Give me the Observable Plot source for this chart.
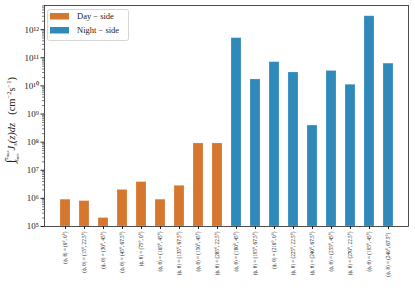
<!DOCTYPE html>
<html><head><meta charset="utf-8">
<script src="https://cdn.jsdelivr.net/npm/d3@7"></script>
<script src="https://cdn.jsdelivr.net/npm/@observablehq/plot@0.6"></script>
<style>body{margin:0;background:#fff}</style>
</head><body><div id="chart"></div>
<script>
const labels = [
  "(ϕ, θ) = (0°, 0°)", "(ϕ, θ) = (15°, 22.5°)", "(ϕ, θ) = (30°, 45°)", "(ϕ, θ) = (45°, 67.5°)",
  "(ϕ, θ) = (75°, 0°)", "(ϕ, θ) = (105°, 45°)", "(ϕ, θ) = (135°, 67.5°)", "(ϕ, θ) = (150°, 45°)",
  "(ϕ, θ) = (285°, 22.5°)",
  "(ϕ, θ) = (180°, 45°)", "(ϕ, θ) = (195°, 67.5°)", "(ϕ, θ) = (210°, 0°)", "(ϕ, θ) = (225°, 22.5°)",
  "(ϕ, θ) = (240°, 67.5°)", "(ϕ, θ) = (255°, 45°)", "(ϕ, θ) = (270°, 22.5°)", "(ϕ, θ) = (195°, 45°)",
  "(ϕ, θ) = (240°, 67.5°) "
];
const values = [9e5, 8e5, 2e5, 2e6, 3.8e6, 9e5, 2.8e6, 9e7, 9e7,
                5e11, 1.7e10, 7e10, 3e10, 3.9e8, 3.4e10, 1.1e10, 3e12, 6.2e10];
const sides = ["Day − side", "Night − side"];
const sideOf = [0,0,0,0,0,0,0,0,0,1,1,1,1,1,1,1,1,1];
const colors = ["#d6772f", "#2f8ab9"];
const decades = [1e5,1e6,1e7,1e8,1e9,1e10,1e11,1e12];
const sup = {"0":"⁰","1":"¹","2":"²","3":"³","4":"⁴","5":"⁵","6":"⁶","7":"⁷","8":"⁸","9":"⁹"};

const data = labels.map((l, i) => ({label: l, value: values[i], side: sides[sideOf[i]]}));
const minors = [];
for (let e = 5; e <= 12; e++) for (let k = 2; k <= 9; k++) { const v = k * 10 ** e; if (v < 10 ** 12.86) minors.push(v); }

const chart = Plot.plot({
  width: 415, height: 291,
  marginLeft: 44, marginRight: 7, marginTop: 5, marginBottom: 65,
  style: {fontFamily: "Liberation Serif, serif", background: "white", color: "#222"},
  x: {domain: labels, paddingInner: 0.5, paddingOuter: 0.73, label: null},
  y: {type: "log", domain: [1e5, 10 ** 12.86], label: null},
  color: {domain: sides, range: colors},
  marks: [
    Plot.barY(data, {x: "label", y1: d => 1e5, y2: "value", fill: "side", stroke: "white", strokeOpacity: 0.25, strokeWidth: 0.8}),
    Plot.axisY({ticks: minors, tickFormat: () => "", tickSize: 2, strokeWidth: 0.6}),
    Plot.axisY({ticks: decades, tickSize: 3.5, tickPadding: 2, fontSize: 9,
      tickFormat: d => "10" + String(Math.round(Math.log10(d))).split("").map(c => sup[c]).join("")}),
    Plot.axisX({tickRotate: -90, fontSize: 5.2, tickSize: 3, tickPadding: 2, label: null}),
    Plot.frame({stroke: "#222", strokeWidth: 0.8})
  ]
});
document.getElementById("chart").appendChild(chart);

const svg = d3.select(chart);
// y label
const yl = svg.append("text").attr("transform", "translate(14,120) rotate(-90)")
  .attr("text-anchor", "middle").style("font-size", "10.5px").attr("fill", "#222")
  .style("font-family", "Liberation Serif, serif");
yl.append("tspan").style("font-size", "13px").text("∫");
yl.append("tspan").style("font-size", "5.5px").attr("dy", -6).attr("font-style", "italic").text("z");
yl.append("tspan").style("font-size", "4px").attr("dy", 1).attr("font-style", "italic").text("max");
yl.append("tspan").style("font-size", "5.5px").attr("dx", -11).attr("dy", 9).attr("font-style", "italic").text("z");
yl.append("tspan").style("font-size", "4px").attr("dy", 1).attr("font-style", "italic").text("min");
yl.append("tspan").attr("dx", 3).attr("dy", -4).attr("font-style", "italic").text("J");
yl.append("tspan").style("font-size", "6.5px").attr("dy", 2).attr("font-style", "italic").text("s");
yl.append("tspan").attr("dy", -2).attr("font-style", "italic").text("(z)dz");
yl.append("tspan").attr("dx", 8).text("(cm");
yl.append("tspan").style("font-size", "6.5px").attr("dy", -4).text("−2");
yl.append("tspan").attr("dy", 4).text("s");
yl.append("tspan").style("font-size", "6.5px").attr("dy", -4).text("−1");
yl.append("tspan").attr("dy", 4).text(")");

// legend
const lg = svg.append("g").attr("text-anchor", "start");
lg.append("rect").attr("x", 47.5).attr("y", 9.5).attr("width", 81).attr("height", 31).attr("rx", 2)
  .attr("fill", "white").attr("fill-opacity", 0.8).attr("stroke", "#ccc").attr("stroke-width", 0.8);
sides.forEach((s, i) => {
  lg.append("rect").attr("x", 50).attr("y", 13 + i * 14).attr("width", 19).attr("height", 6.5).attr("fill", colors[i]);
  lg.append("text").attr("x", 77).attr("y", 19 + i * 14).style("font-size", "8.5px").attr("fill", "#222")
    .attr("text-anchor", "start").style("font-family", "Liberation Serif, serif").text(s);
});
</script></body></html>
